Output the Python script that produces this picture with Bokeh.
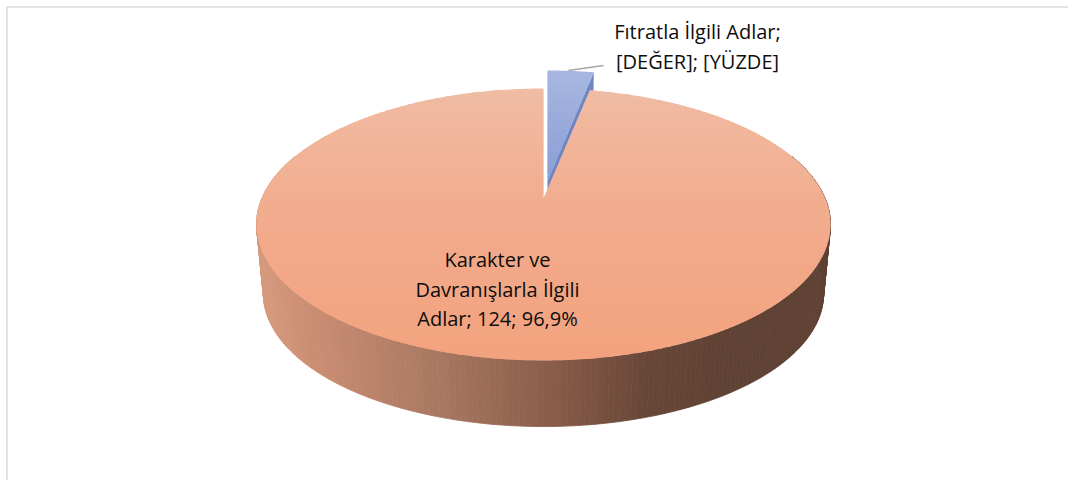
import numpy as np
from bokeh.plotting import figure
from bokeh.models import Range1d
from bokeh.core.properties import value
from bokeh.embed import file_html
from bokeh.resources import INLINE

# ---------------- data ----------------
categories = ["Fıtratla İlgili Adlar", "Karakter ve Davranışlarla İlgili Adlar"]
values = [4, 124]
label_lines = [
    ["Fıtratla İlgili Adlar;", "[DEĞER]; [YÜZDE]"],
    ["Karakter ve", "Davranışlarla İlgili", "Adlar; 124; 96,9%"],
]

# ---------------- layout / style ----------------
W, H = 1068, 480
CX, CY0 = 543, 198
A, B, K = 281.7, 131.0, 0.191
DEPTH, SHRINK = 70.0, 0.024
EXPLODE = [(4.0, -18.0), (0.0, 0.0)]

def proj(phi_deg, level=0.0, r=1.0):
    ph = np.radians(np.asarray(phi_deg, dtype=float))
    u = r * np.sin(ph)
    v = r * np.cos(ph)
    s = 1 - SHRINK * level
    w = 1 + K * v
    return CX + A * s * u / w, CY0 + DEPTH * level - B * s * v / w

def lerp_color(stops, t):
    ts = [s[0] for s in stops]
    cs = np.array([s[1] for s in stops], dtype=float)
    rgb = [np.interp(t, ts, cs[:, i]) for i in range(3)]
    return "#%02x%02x%02x" % tuple(int(round(c)) for c in rgb)

def clip_half(poly, y0, keep_above):
    out = []
    n = len(poly)
    for i in range(n):
        cur = poly[i]
        prev = poly[i - 1]
        cin = cur[1] >= y0 if keep_above else cur[1] <= y0
        pin = prev[1] >= y0 if keep_above else prev[1] <= y0
        if cin:
            if not pin:
                t = (y0 - prev[1]) / (cur[1] - prev[1])
                out.append((prev[0] + t * (cur[0] - prev[0]), y0))
            out.append(cur)
        elif pin:
            t = (y0 - prev[1]) / (cur[1] - prev[1])
            out.append((prev[0] + t * (cur[0] - prev[0]), y0))
    return out

def bands(poly, stops, step=2.0):
    ys = [p[1] for p in poly]
    ymin, ymax = min(ys), max(ys)
    xs_l, ys_l, cols = [], [], []
    y = ymin
    while y < ymax:
        sub = clip_half(poly, y - 0.4, True)
        if sub:
            sub = clip_half(sub, y + step + 0.4, False)
        if len(sub) >= 3:
            xs_l.append([p[0] for p in sub])
            ys_l.append([p[1] for p in sub])
            cols.append(lerp_color(stops, (y + step / 2 - ymin) / (ymax - ymin)))
        y += step
    return xs_l, ys_l, cols

p = figure(width=W, height=H, output_backend="svg", toolbar_location=None,
           x_range=Range1d(0, W), y_range=Range1d(H, 0), min_border=0)
p.axis.visible = False
p.grid.visible = False
p.outline_line_color = None
p.background_fill_color = "white"

# slice angles (clockwise from 12 o'clock)
total = sum(values)
starts, ends = [], []
acc = 0.0
for v in values:
    starts.append(acc)
    acc += 360.0 * v / total
    ends.append(acc)

# ---- pink side (cylinder wall) with horizontal gradient ----
side_stops = [(0.0, (214, 154, 126)), (0.08, (204, 143, 115)), (0.32, (168, 119, 97)),
              (0.5, (139, 94, 75)), (0.68, (104, 71, 56)), (0.8, (96, 66, 52)), (1.0, (95, 65, 51))]
big = 1
a0, a1 = max(starts[big], 70), min(ends[big], 290)
angs = np.arange(a0, a1 + 0.001, 1.0)
sx, sy, sc = [], [], []
for i in range(len(angs) - 1):
    t1x, t1y = proj(angs[i], 0)
    t2x, t2y = proj(angs[i + 1], 0)
    b1x, b1y = proj(angs[i], 1)
    b2x, b2y = proj(angs[i + 1], 1)
    sx.append([t1x, t2x, b2x, b1x])
    sy.append([t1y, t2y, b2y, b1y])
    mx = (t1x + t2x) / 2
    sc.append(lerp_color(side_stops, (mx - (CX - A * 1.02)) / (2 * A * 1.02)))
p.patches(sx, sy, fill_color=sc, line_color=sc, line_width=0.8)

# ---- small exploded slice: radial face + top face ----
sm = 0
dx, dy = EXPLODE[sm]
e = ends[sm]
ox, oy = proj(e, 0)
obx, oby = proj(e, 1)
ax0, ay0 = proj(0, 0, r=0)
ax1, ay1 = proj(0, 1, r=0)
p.patch([ax0 + dx, ox + dx, obx + dx, ax1 + dx], [ay0 + dy, oy + dy, oby + dy, ay1 + dy],
        fill_color="#6f86c4", line_color=None)
arc = np.linspace(starts[sm], ends[sm], 30)
axs, ays = proj(arc, 0)
poly = [(ax0 + dx, ay0 + dy)] + [(x + dx, y + dy) for x, y in zip(axs, ays)]
bx, by, bc = bands(poly, [(0.0, (168, 183, 225)), (1.0, (138, 158, 213))], step=2.0)
p.patches(bx, by, fill_color=bc, line_color=None)

# ---- big slice top face with vertical gradient ----
arc = np.linspace(starts[big], ends[big], 700)
axs, ays = proj(arc, 0)
dxb, dyb = EXPLODE[big]
poly = [(ax0 + dxb, ay0 + dyb)] + [(x + dxb, y + dyb) for x, y in zip(axs, ays)]
tx, ty, tc = bands(poly, [(0.0, (240, 188, 164)), (0.45, (242, 172, 142)), (1.0, (243, 162, 126))], step=2.0)
p.patches(tx, ty, fill_color=tc, line_color=None)

# ---- leader line for small slice label ----
p.line([568, 603], [70, 65], line_color="#a6a6a6", line_width=1.5)

# ---- labels ----
lab_pos = [(697, 31), (497, 259)]
line_gap = [30, 29.5]
tx_, ty_, tt_ = [], [], []
for i, lines in enumerate(label_lines):
    x0, y0 = lab_pos[i]
    for j, s in enumerate(lines):
        tx_.append(x0)
        ty_.append(y0 + j * line_gap[i])
        tt_.append(s)
p.text(x=tx_, y=ty_, text=tt_, text_align="center", text_baseline="middle",
       text_font=value("Open Sans"), text_font_size="20px", text_color="#0d0d0d")

# ---- chart border (top and left visible) ----
p.line([6.5, 6.5, W], [H, 6.5, 6.5], line_color="#d9d9d9", line_width=1.5)

open("out.html", "w").write(file_html(p, INLINE))
